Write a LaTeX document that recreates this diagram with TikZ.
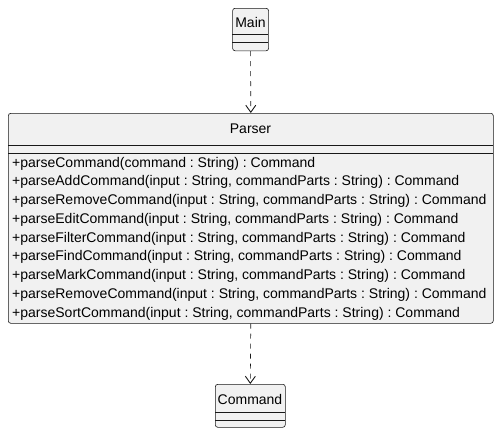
\documentclass[tikz,border=0pt]{standalone}
\usepackage{fontspec}
\setmainfont{Liberation Sans}
\usetikzlibrary{arrows.meta}
\definecolor{boxfill}{HTML}{F1F1F1}
\definecolor{boxline}{HTML}{181818}
\tikzset{
  classbox/.style={draw=boxline, fill=boxfill, line width=0.6pt, rounded corners=2.5pt, anchor=north west, inner sep=0pt},
  sepline/.style={draw=boxline, line width=0.6pt},
  dep/.style={draw=boxline, line width=0.6pt, dash pattern=on 5pt off 5pt, -{Straight Barb[length=7pt,width=10pt,line width=0.9pt]}},
  txt/.style={font=\fontsize{14pt}{18.75pt}\selectfont\frenchspacing, text=black, inner sep=0pt},
  title/.style={txt, anchor=base},
  member/.style={txt, anchor=base west}
}
\begin{document}
\begin{tikzpicture}[x=1pt,y=1pt]
\useasboundingbox (0,0) rectangle (499,-434);
% Main
\node[classbox, minimum width=36pt, minimum height=42.5pt] (main) at (232.3,-8) {};
\node[title] (maint) at (250.5,-27.7) {Main};
\draw[sepline] (232.3,-34.3) -- (268.3,-34.3);
\draw[sepline] (232.3,-42.5) -- (268.3,-42.5);
% Parser
\node[classbox, minimum width=485pt, minimum height=210pt] (parser) at (8,-113) {};
\node[title] (parsert) at (250.5,-133.5) {Parser};
\draw[sepline] (8,-145) -- (493,-145);
\draw[sepline] (8,-153) -- (493,-153);
\node[member] (m1) at (12,-167) {+parseCommand(command : String) : Command};
\node[member] (m2) at (12,-185.75) {+parseAddCommand(input : String, commandParts : String) : Command};
\node[member] (m3) at (12,-204.5) {+parseRemoveCommand(input : String, commandParts : String) : Command};
\node[member] (m4) at (12,-223.25) {+parseEditCommand(input : String, commandParts : String) : Command};
\node[member] (m5) at (12,-242) {+parseFilterCommand(input : String, commandParts : String) : Command};
\node[member] (m6) at (12,-260.75) {+parseFindCommand(input : String, commandParts : String) : Command};
\node[member] (m7) at (12,-279.5) {+parseMarkCommand(input : String, commandParts : String) : Command};
\node[member] (m8) at (12,-298.25) {+parseRemoveCommand(input : String, commandParts : String) : Command};
\node[member] (m9) at (12,-317) {+parseSortCommand(input : String, commandParts : String) : Command};
% Command
\node[classbox, minimum width=70pt, minimum height=43pt] (command) at (215,-384) {};
\node[title] (commandt) at (250,-404.3) {Command};
\draw[sepline] (215,-412) -- (285,-412);
\draw[sepline] (215,-420) -- (285,-420);
% arrows
\draw[dep] (main.south) -- (parser.north);
\draw[dep] (parser.south) -- (command.north);
\end{tikzpicture}
\end{document}
